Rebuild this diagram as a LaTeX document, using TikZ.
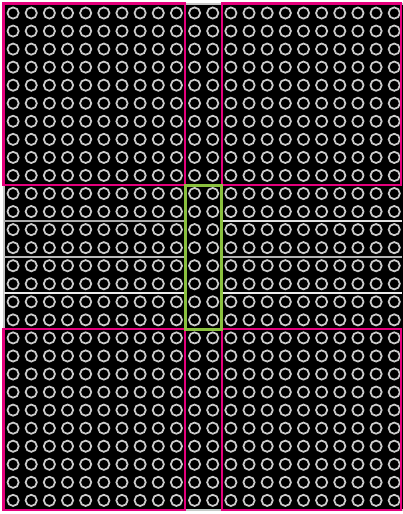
\documentclass[tikz,border=0pt]{standalone}
\usepackage{tikz}
\usetikzlibrary{calc}
\definecolor{framepink}{RGB}{228,0,124}
\definecolor{framegreen}{RGB}{138,192,62}
\newcommand{\cw}{18.15}
\newcommand{\ch}{18.05}
\begin{document}
\begin{tikzpicture}[x=0.25mm, y=-0.25mm,
  hole/.style={draw=white!80!black, line width=0.44mm},
  pinkframe/.style={draw=framepink, line width=0.55mm},
  greenframe/.style={draw=framegreen, line width=0.55mm},
  sep/.style={line width=0.4mm}
]
  \useasboundingbox (0,0) rectangle (402,514);
  \fill[white] (0,0) rectangle (402,514);
  \draw[fill=black, draw=gray!45, line width=0.3mm] (4,4) rectangle (404,510);

  % holes
  \foreach \i in {0,...,21}
    \foreach \j in {0,...,27}
      \draw[hole] ({4+\cw*(\i+0.5)},{4+\ch*(\j+0.5)}) circle (5.6);

  % strips in the middle rows
  \coordinate (la) at (4,221);   \coordinate (lb) at (185,221);
  \coordinate (lc) at (4,257);   \coordinate (ld) at (185,257);
  \coordinate (le) at (4,293);   \coordinate (lf) at (185,293);
  \coordinate (ra) at (222,221); \coordinate (rb) at (402,221);
  \coordinate (rc) at (222,257); \coordinate (rd) at (402,257);
  \coordinate (re) at (222,293); \coordinate (rf) at (402,293);
  \draw[sep, gray!65]  (la) -- (lb);
  \draw[sep, gray!55]  (lc) -- (ld);
  \draw[sep, white!92!black] (le) -- (lf);
  \draw[sep, white!88!black] (ra) -- (rb);
  \draw[sep, gray!60]  (rc) -- (rd);
  \draw[sep, white!92!black] (re) -- (rf);

  % blocks
  \draw[pinkframe] (3.5,3.5) rectangle (185,185);
  \draw[pinkframe] (222,3.5) rectangle (401,185);
  \draw[pinkframe] (3.5,329) rectangle (185,510);
  \draw[pinkframe] (222,329) rectangle (401,510);
  \draw[greenframe] (185.5,185.5) rectangle (221.5,329.5);
\end{tikzpicture}
\end{document}
